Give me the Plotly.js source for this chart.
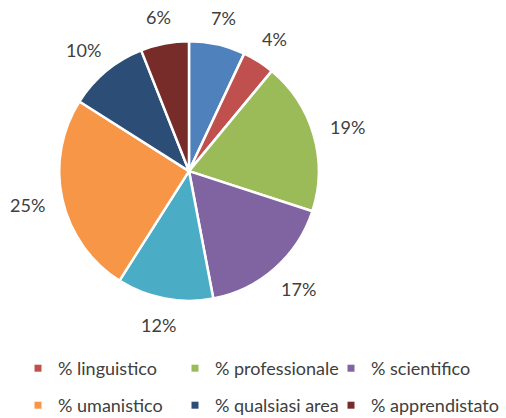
<!DOCTYPE html>
<html>
<head>
<meta charset="utf-8">
<script src="https://cdn.plot.ly/plotly-3.0.1.min.js"></script>
<style>
  html, body { margin: 0; padding: 0; background: #fff; overflow: hidden; }
  #chart { width: 506px; height: 418px; overflow: hidden; }
</style>
</head>
<body>
<div id="chart"></div>
<script>
// slice data, clockwise from 12 o'clock
var labels = ['% area 1', '% linguistico', '% professionale', '% scientifico',
              '% area 5', '% umanistico', '% qualsiasi area', '% apprendistato'];
var values = [7, 4, 19, 17, 12, 25, 10, 6];
var colors = ['#4F81BD', '#C0504D', '#9BBB59', '#8064A2',
              '#4BACC6', '#F79646', '#2C4D75', '#772C2A'];

// slices that show up in the legend, in reading order (3 per row)
var legendItems = [1, 2, 3, 5, 6, 7];

// figure is a bit taller than the window: the extra strip below only
// holds the bottom legend's padding
var W = 506, H = 424;
var pieDomain = { x: [0.117, 0.630], y: [0.290, 0.903] };
var textColor = '#404040';

var pie = {
  type: 'pie',
  labels: labels,
  values: values,
  sort: false,
  direction: 'clockwise',
  rotation: 0,
  marker: { colors: colors, line: { color: '#ffffff', width: 2.5 } },
  textinfo: 'none',
  showlegend: false,
  hoverinfo: 'label+percent',
  domain: pieDomain
};

var data = [pie];

// one small legend per entry, laid out on a 3-column grid
var legendFont = { family: 'Lato', size: 18, color: textColor };
var colX = [18, 175, 331];      // px, left edge of each legend box
var rowBottom = [37, 0];        // px above the figure bottom
var legendLayouts = {};
legendItems.forEach(function (i, k) {
  var name = k === 0 ? 'legend' : 'legend' + (k + 1);
  data.push({
    type: 'scatter',
    mode: 'markers',
    x: [null], y: [null],
    name: labels[i],
    legend: name,
    marker: { symbol: 'square', size: 7, color: colors[i] },
    hoverinfo: 'skip'
  });
  legendLayouts[name] = {
    x: colX[k % 3] / W, xanchor: 'left',
    y: rowBottom[Math.floor(k / 3)] / H, yanchor: 'bottom',
    itemwidth: 30,
    font: legendFont,
    bgcolor: 'rgba(0,0,0,0)'
  };
});

// percent labels outside the pie, at each slice's middle angle;
// the label box is pushed out so its inner edge sits a fixed gap from the rim
var total = values.reduce(function (a, b) { return a + b; }, 0);
var cx = (pieDomain.x[0] + pieDomain.x[1]) / 2;
var cy = (pieDomain.y[0] + pieDomain.y[1]) / 2;
var radiusPx = (pieDomain.x[1] - pieDomain.x[0]) * W / 2;
var labelDist = radiusPx + 18;
var annotations = [];
var cum = 0;
values.forEach(function (v) {
  var mid = (cum + v / 2) / total * 2 * Math.PI;
  cum += v;
  var txt = Math.round(v / total * 100) + '%';
  var boxW = 10 * txt.length + 5, boxH = 18;
  annotations.push({
    xref: 'paper', yref: 'paper',
    x: cx + labelDist * Math.sin(mid) / W,
    y: cy + labelDist * Math.cos(mid) / H,
    xshift: boxW / 2 * Math.sin(mid),
    yshift: boxH / 2 * Math.cos(mid),
    xanchor: 'center', yanchor: 'middle',
    text: txt,
    showarrow: false,
    font: { family: 'Lato', size: 18, color: textColor }
  });
});

var layout = {
  width: W,
  height: H,
  margin: { l: 0, r: 0, t: 0, b: 0 },
  paper_bgcolor: '#ffffff',
  plot_bgcolor: '#ffffff',
  xaxis: { visible: false },
  yaxis: { visible: false },
  annotations: annotations
};
Object.keys(legendLayouts).forEach(function (name) {
  layout[name] = legendLayouts[name];
});

Plotly.newPlot('chart', data, layout, { displayModeBar: false, staticPlot: true });
</script>
</body>
</html>
